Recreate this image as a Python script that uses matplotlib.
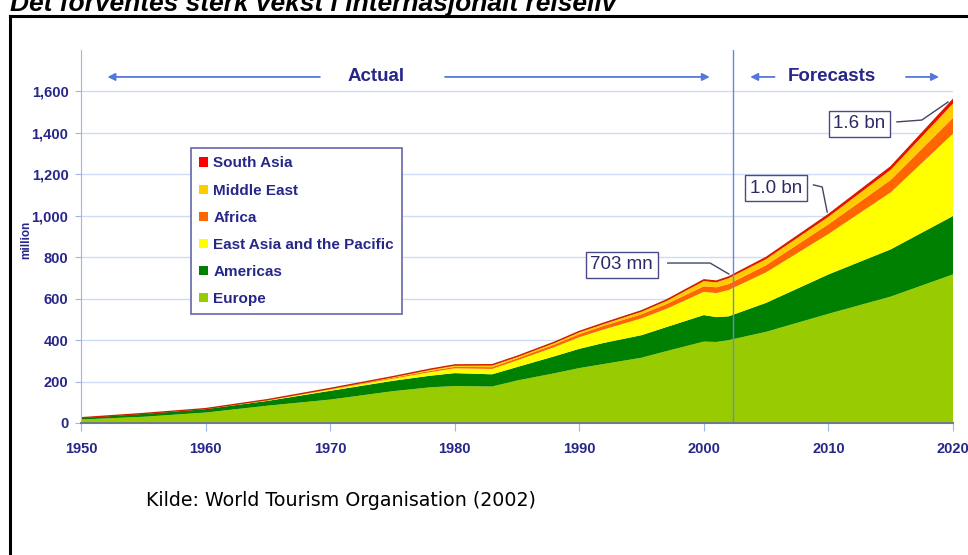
import matplotlib
matplotlib.use("Agg")
import matplotlib.pyplot as plt
import numpy as np
from matplotlib.patches import Patch
from matplotlib.lines import Line2D

plt.rcParams['font.family'] = ['Liberation Sans', 'DejaVu Sans']

# International tourist arrivals, million (2005+ = forecast)
years = [1950, 1955, 1960, 1965, 1970, 1975, 1978, 1980, 1983, 1985, 1988,
         1990, 1992, 1995, 1997, 2000, 2001, 2002, 2005, 2010, 2015, 2020]
europe = [16.8, 30.0, 50.4, 83.7, 113.0, 153.3, 172.0, 178.5, 176.0, 205.0, 240.0,
          265.0, 285.0, 315.0, 347.0, 393.0, 391.0, 400.0, 440.0, 527.0, 610.0, 717.0]
americas = [7.5, 14.0, 16.7, 23.3, 42.3, 50.0, 56.0, 62.3, 59.0, 65.0, 82.0,
            93.0, 102.0, 109.0, 116.0, 128.0, 120.0, 115.0, 140.0, 190.0, 228.0, 282.0]
east_asia = [0.2, 0.5, 0.7, 2.1, 6.2, 10.2, 17.0, 23.0, 26.0, 32.0, 44.0,
             56.0, 65.0, 81.0, 88.0, 112.0, 116.0, 127.0, 147.0, 195.0, 275.0, 397.0]
africa = [0.5, 0.7, 0.8, 1.4, 2.4, 4.7, 6.0, 7.2, 8.5, 9.7, 12.5,
          15.0, 18.0, 20.0, 23.0, 27.0, 28.0, 29.0, 35.0, 47.0, 60.0, 77.0]
middle_east = [0.2, 0.5, 0.6, 2.0, 1.9, 3.5, 6.5, 7.1, 9.5, 7.5, 8.5,
               9.6, 9.0, 12.5, 15.0, 25.0, 24.0, 28.0, 29.0, 36.0, 49.0, 69.0]
south_asia = [0.03, 0.1, 0.2, 0.4, 0.9, 1.5, 2.0, 2.2, 2.3, 2.5, 2.8,
              3.2, 3.7, 4.2, 4.8, 6.0, 5.7, 6.0, 8.0, 11.0, 14.0, 19.0]

regions = ["Europe", "Americas", "East Asia and the Pacific", "Africa", "Middle East", "South Asia"]
colors = ["#99cc00", "#008000", "#ffff00", "#ff6600", "#ffcc00", "#ff0000"]

title = "Det forventes sterk vekst i internasjonalt reiseliv"
source = "Kilde: World Tourism Organisation (2002)"
callouts = ["703 mn", "1.0 bn", "1.6 bn"]

NAVY = "#27278a"
BLUE = "#5577dd"

W, H = 968, 555
fig = plt.figure(figsize=(W / 100, H / 100), dpi=100)
fig.patch.set_facecolor("white")

# black frame (right/bottom edges run off the picture)
fig.add_artist(Line2D([10 / W, 1.02], [1 - 16 / H, 1 - 16 / H], color="black", lw=2.2))
fig.add_artist(Line2D([10 / W, 10 / W], [1 - 16 / H, -0.02], color="black", lw=2.2))

# title sits partly above the picture's top edge, as in the source image
fig.text(10 / W, 1 - 10.5 / H, title, fontsize=19, fontweight="bold", fontstyle="italic",
         va="baseline", ha="left", color="black")

ax = fig.add_axes([81 / W, 1 - 423 / H, 872 / W, 373 / H])
series = [europe, americas, east_asia, africa, middle_east, south_asia]
ax.stackplot(years, *series, colors=colors, labels=regions, lw=0)
total = np.sum(np.array(series), axis=0)
ax.plot(years, total, color="#cc2200", lw=1)

ax.set_xlim(1950, 2020)
ax.set_ylim(0, 1800)
ax.set_xticks(range(1950, 2021, 10))
ax.set_yticks(range(0, 1601, 200))
ax.set_yticklabels([f"{v:,}" for v in range(0, 1601, 200)])
ax.yaxis.grid(True, color="#cddcf4", lw=1)
ax.set_axisbelow(True)
for s in ["top", "right"]:
    ax.spines[s].set_visible(False)
ax.spines["left"].set_color("#9fb4e8")
ax.spines["bottom"].set_color("#707a88")
ax.spines["bottom"].set_linewidth(1.5)
ax.tick_params(axis="y", colors="#9fb4e8", labelcolor=NAVY, length=4, pad=5, labelsize=10.5)
ax.tick_params(axis="x", colors="#9fb4e8", labelcolor=NAVY, length=6, pad=8, labelsize=10.5)
for lab in ax.get_xticklabels() + ax.get_yticklabels():
    lab.set_fontweight("bold")
ax.set_ylabel("million", fontsize=8.5, fontweight="bold", color=NAVY)
ax.yaxis.set_label_coords(-0.056, 0.49)

# actual / forecast divider
ax.axvline(2002.3, color="#6688dd", lw=1)

# top arrows
ya = 1670
aprops = dict(arrowstyle="-|>", color=BLUE, lw=1.3, mutation_scale=11)
ax.annotate("", xy=(1951.9, ya), xytext=(1969.4, ya), arrowprops=aprops, annotation_clip=False)
ax.annotate("", xy=(2000.7, ya), xytext=(1979.0, ya), arrowprops=aprops, annotation_clip=False)
ax.text(1973.7, ya, "Actual", ha="center", va="center", fontsize=13.5, fontweight="bold", color=NAVY)
ax.annotate("", xy=(2003.5, ya), xytext=(2005.9, ya), arrowprops=aprops, annotation_clip=False)
ax.annotate("", xy=(2019.1, ya), xytext=(2016.0, ya), arrowprops=aprops, annotation_clip=False)
ax.text(2010.3, ya, "Forecasts", ha="center", va="center", fontsize=13.5, fontweight="bold", color=NAVY)

# callout boxes with leader lines
box_pos = [(1993.4, 763), (2005.8, 1134), (2012.5, 1443)]
leaders = [
    ([1997.1, 2000.5, 2002.0], [772, 772, 719]),
    ([2008.8, 2009.5, 2009.9], [1149, 1139, 1018]),
    ([2015.5, 2017.5, 2019.6], [1453, 1462, 1549]),
]
for txt, (bx, by), (lx, ly) in zip(callouts, box_pos, leaders):
    ax.plot(lx, ly, color="#444466", lw=1)
    ax.text(bx, by, txt, ha="center", va="center", fontsize=13.5, color="#2a2a6a",
            bbox=dict(boxstyle="square,pad=0.25", fc="white", ec="#4a4a8a", lw=1))

handles = [Patch(facecolor=c, edgecolor="none") for c in colors][::-1]
leg = ax.legend(handles, regions[::-1], loc="upper left",
                bbox_to_anchor=(191 / W, 1 - 148 / H), bbox_transform=fig.transFigure,
                fontsize=11, labelcolor=NAVY, handlelength=0.55, handleheight=0.55,
                handletextpad=0.35, labelspacing=0.86, borderpad=0.55, borderaxespad=0,
                fancybox=False, framealpha=1, edgecolor="#6666aa")
leg.get_frame().set_linewidth(1.2)
for t in leg.get_texts():
    t.set_fontweight("bold")

fig.text(146 / W, 1 - 500 / H, source, fontsize=13.7, family="DejaVu Sans",
         va="center", ha="left", color="black")

fig.savefig("out.png", dpi=100)
